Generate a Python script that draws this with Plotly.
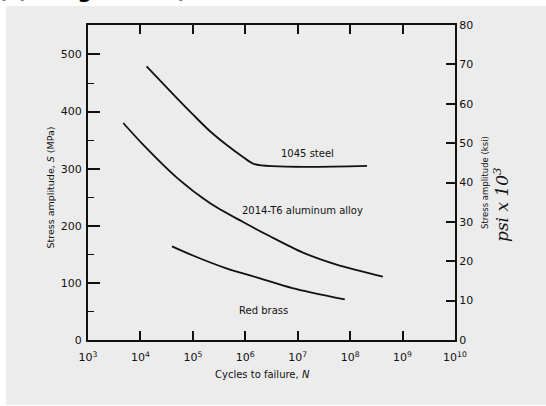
import plotly.graph_objects as go

# ---- data ----
steel_N = [1.31e4, 4.9e4, 1.0e5, 2.1e5, 4.5e5, 8.9e5, 1.5e6, 2.1e8]
steel_S = [479, 424, 395, 366, 341, 321, 308, 305]

alu_N = [4.7e3, 1.1e4, 5.0e4, 2.1e5, 8.9e5, 2.9e6, 1.26e7, 5.5e7, 4.2e8]
alu_S = [380, 343, 284, 240, 207, 182, 153, 132, 111]

brass_N = [4.0e4, 1.0e5, 4.5e5, 1.9e6, 7.9e6, 7.9e7]
brass_S = [164, 148, 125, 108, 91, 71]

x_tickvals = [1e3, 1e4, 1e5, 1e6, 1e7, 1e8, 1e9, 1e10]
x_ticktext = ["10<sup>%d</sup>" % e for e in range(3, 11)]
mpa_ticks = [0, 100, 200, 300, 400, 500]
ksi_ticks = [0, 10, 20, 30, 40, 50, 60, 70, 80]
KSI_TO_MPA = 6.895

# ---- geometry helpers (pixel -> paper) ----
L, R, T, B = 88, 455, 25, 340
def xp(px):
    return (px - L) / (R - L)
def yp(py):
    return (B - py) / (B - T)

FONT = "DejaVu Sans"
line = dict(color="#111111", width=1.8)

fig = go.Figure()
for xs, ys in [(steel_N, steel_S), (alu_N, alu_S), (brass_N, brass_S)]:
    fig.add_trace(go.Scatter(x=xs, y=ys, mode="lines", line=dict(line, shape="spline", smoothing=0.8),
                             showlegend=False, hoverinfo="skip"))
# invisible trace on right axis so it renders
fig.add_trace(go.Scatter(x=[1e3], y=[0], yaxis="y2", mode="markers",
                         marker=dict(opacity=0), showlegend=False, hoverinfo="skip"))

fig.update_layout(
    width=546, height=406,
    margin=dict(l=L, r=546 - R, t=T, b=406 - B),
    paper_bgcolor="white",
    plot_bgcolor="rgba(0,0,0,0)",
    font=dict(family=FONT, color="#111111", size=11),
    xaxis=dict(type="log", range=[3, 10], tickvals=x_tickvals, ticktext=x_ticktext,
               ticks="inside", ticklen=9, tickwidth=1.6, tickcolor="#111111",
               showline=True, linecolor="#111111", linewidth=2, mirror="ticks",
               showgrid=False, zeroline=False, tickfont=dict(size=11),
               ticklabelstandoff=6),
    yaxis=dict(range=[0, 80 * KSI_TO_MPA], tickvals=mpa_ticks,
               ticks="inside", ticklen=12, tickwidth=1.6, tickcolor="#111111",
               minor=dict(dtick=50, ticks="inside", ticklen=6, tickwidth=1.4, tickcolor="#111111"),
               showline=True, linecolor="#111111", linewidth=2,
               showgrid=False, zeroline=False, tickfont=dict(size=11),
               ticklabelstandoff=2),
    yaxis2=dict(range=[0, 80], tickvals=ksi_ticks, overlaying="y", side="right",
                ticks="inside", ticklen=9, tickwidth=1.6, tickcolor="#111111",
                showline=True, linecolor="#111111", linewidth=2,
                showgrid=False, zeroline=False, tickfont=dict(size=11)),
    shapes=[dict(type="rect", xref="paper", yref="paper",
                 x0=xp(6), x1=xp(546), y0=yp(405), y1=yp(6),
                 fillcolor="#ececec", line=dict(width=0), layer="below")],
)

ann = [
    dict(x=7.19, y=327, xref="x", yref="y", text="1045 steel", font=dict(size=10)),
    dict(x=7.10, y=226, xref="x", yref="y", text="2014-T6 aluminum alloy", font=dict(size=10)),
    dict(x=6.35, y=52, xref="x", yref="y", text="Red brass", font=dict(size=10)),
    dict(x=xp(262), y=yp(382), xref="paper", yref="paper",
         text="Cycles to failure, <i>N</i>", font=dict(size=10)),
    dict(x=xp(43), y=yp(188), xref="paper", yref="paper", textangle=-90,
         text="Stress amplitude, <i>S</i> (MPa)", font=dict(size=9.5)),
    dict(x=xp(492), y=yp(183), xref="paper", yref="paper", textangle=-90,
         text="Stress amplitude (ksi)", font=dict(size=8.5)),
    dict(x=xp(514), y=yp(205), xref="paper", yref="paper", textangle=-90,
         text="<i>psi x 10<sup>3</sup></i>", font=dict(size=17, family="DejaVu Serif")),
    dict(x=xp(-4), y=yp(5), xref="paper", yref="paper", xanchor="left", yanchor="bottom",
         text="<b>(c) Fatigue data)</b>", font=dict(size=20, color="black")),
]
for a in ann:
    a.setdefault("showarrow", False)
    fig.add_annotation(**a)

fig.write_html("out.html", config={"displayModeBar": False},
               post_script="document.body.style.margin='0';")
